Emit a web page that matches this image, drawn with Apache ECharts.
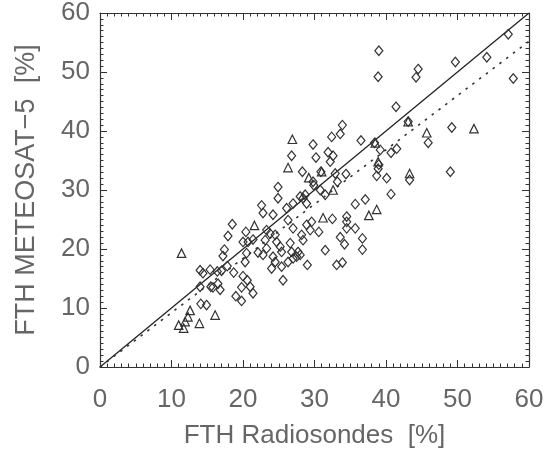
<!DOCTYPE html>
<html>
<head>
<meta charset="utf-8">
<script src="https://cdn.jsdelivr.net/npm/echarts@6/dist/echarts.min.js"></script>
<style>
html,body{margin:0;padding:0;background:#fff;}
#chart{width:546px;height:456px;}
</style>
</head>
<body>
<div id="chart"></div>
<script>
// ---- data ----
var xTitle = 'FTH Radiosondes  [%]';
var yTitle = 'FTH METEOSAT\u22125  [%]';
var axisMin = 0, axisMax = 60, axisStep = 10;

var diamondPts = [
[39.0,53.6],[38.9,49.2],[44.5,50.5],[44.2,49.1],[49.7,51.7],[54.1,52.5],[57.1,56.4],[57.8,48.9],
[41.4,44.1],[43.1,41.6],[45.9,38.0],[49.2,40.6],[36.5,38.4],[38.4,38.0],[39.2,36.8],[40.7,36.3],
[41.5,37.0],[33.9,41.0],[33.6,39.5],[32.4,39.0],[29.8,37.7],[30.2,35.5],[31.9,36.4],[32.6,35.8],
[32.2,34.8],[26.8,35.8],[28.3,33.1],[30.9,33.1],[32.9,32.8],[34.4,32.7],[38.9,33.6],[38.7,32.4],
[40.1,32.0],[43.3,31.7],[49.0,33.1],[39.0,34.3],[29.9,30.8],[31.5,29.2],[37.1,28.4],[35.7,27.6],
[40.7,29.3],[28.4,28.6],[28.9,27.7],[29.8,31.4],[30.8,30.0],[33.2,31.4],[24.9,30.5],[24.9,28.6],
[32.5,25.1],[34.5,25.5],[34.5,24.6],[34.5,23.5],[35.7,23.5],[29.6,24.6],[30.6,22.9],[33.6,22.0],
[34.2,20.8],[36.7,21.8],[36.7,19.9],[31.5,19.8],[33.1,17.3],[33.9,17.7],[29.0,17.3],[25.6,14.7],
[22.6,27.4],[22.8,26.1],[24.2,25.8],[26.1,26.9],[27.0,27.7],[28.0,28.9],[28.7,29.2],[26.3,24.9],
[27.0,23.5],[28.9,24.1],[29.4,23.2],[28.2,22.4],[28.4,21.5],[24.5,22.4],[24.7,21.2],[25.2,20.4],
[25.4,19.5],[23.1,21.5],[23.3,20.1],[26.6,21.0],[26.8,19.5],[27.0,18.4],[24.2,18.7],[24.5,17.8],
[25.4,17.0],[26.3,17.8],[27.7,19.5],[28.0,19.0],[24.0,16.7],[22.8,19.0],[18.5,24.2],[20.4,22.9],
[17.9,22.2],[20.0,21.2],[20.7,21.2],[21.4,21.6],[22.1,19.4],[17.4,19.9],[17.2,18.8],[20.5,19.3],
[20.3,17.8],[14.0,16.4],[14.4,15.9],[15.4,16.5],[16.4,16.2],[17.0,16.3],[17.8,17.1],[18.7,16.0],
[20.0,15.4],[20.6,14.7],[21.0,13.6],[21.4,12.5],[19.8,13.5],[15.5,13.6],[15.8,13.5],[16.5,14.1],
[16.8,13.1],[14.0,13.6],[19.0,12.0],[19.8,11.2],[14.1,10.7],[14.9,10.5],[23.3,23.2],[23.8,22.6],
[27.5,18.7]
];

var trianglePts = [
[11.4,19.3],[26.9,38.6],[26.3,33.8],[29.2,32.1],[31.0,33.1],[38.9,34.8],[38.5,38.0],[43.1,41.6],
[45.7,39.7],[52.3,40.4],[43.3,32.8],[32.6,30.0],[31.2,25.3],[38.7,26.7],[37.6,25.7],[21.6,24.0],
[16.1,8.8],[12.6,9.6],[12.3,8.5],[11.9,7.7],[11.0,7.1],[11.7,6.6],[13.9,7.4]
];

var oneToOneLine = [[0,0],[60,60]];
var fitLine = [[0,0],[60,55.2]];

// ---- chart ----
var font = 'Liberation Sans, Arial, sans-serif';
var textColor = '#666';
var lineColor = '#333';

function makeAxis(pos, isX, showLabel, name, gap, nameSize) {
  return {
    type: 'value',
    gridIndex: 0,
    position: pos,
    min: axisMin, max: axisMax, interval: axisStep,
    axisLine: {show: true, onZero: false, lineStyle: {color: lineColor, width: 1.2}},
    axisTick: {show: true, inside: true, length: 7, lineStyle: {color: lineColor, width: 1}},
    minorTick: {show: true, splitNumber: 10, length: 3.5, lineStyle: {color: lineColor, width: 1}},
    splitLine: {show: false},
    minorSplitLine: {show: false},
    axisLabel: {
      show: showLabel, fontFamily: font, fontSize: 26, color: textColor,
      margin: isX ? 20 : 10, showMinLabel: true, showMaxLabel: true, hideOverlap: false
    },
    name: name || '',
    nameLocation: 'middle',
    nameGap: gap || 0,
    nameTextStyle: {fontFamily: font, fontSize: nameSize || 26, color: textColor}
  };
}

var chart = echarts.init(document.getElementById('chart'), null, {renderer: 'canvas'});
chart.setOption({
  animation: false,
  backgroundColor: '#fff',
  grid: {left: 100, right: 17, top: 13, bottom: 89, containLabel: false, outerBoundsMode: 'none'},
  xAxis: [makeAxis('bottom', true, true, xTitle, 56, 26), makeAxis('top', true, false)],
  yAxis: [makeAxis('left', false, true, yTitle, 60, 27), makeAxis('right', false, false)],
  series: [
    {type: 'line', data: oneToOneLine, symbol: 'none', clip: true,
     lineStyle: {color: '#222', width: 1.3}, z: 1},
    {type: 'line', data: fitLine, symbol: 'none', clip: true,
     lineStyle: {color: '#333', width: 1.6, type: [2.5, 6]}, z: 1},
    {type: 'scatter', data: diamondPts, symbol: 'diamond', symbolSize: [8, 9.5],
     itemStyle: {color: 'rgba(255,255,255,0)', borderColor: '#333', borderWidth: 1.2, opacity: 1}, z: 2},
    {type: 'scatter', data: trianglePts, symbol: 'triangle', symbolSize: [8.5, 8.5],
     itemStyle: {color: 'rgba(255,255,255,0)', borderColor: '#333', borderWidth: 1.2, opacity: 1}, z: 2}
  ]
});
</script>
</body>
</html>
